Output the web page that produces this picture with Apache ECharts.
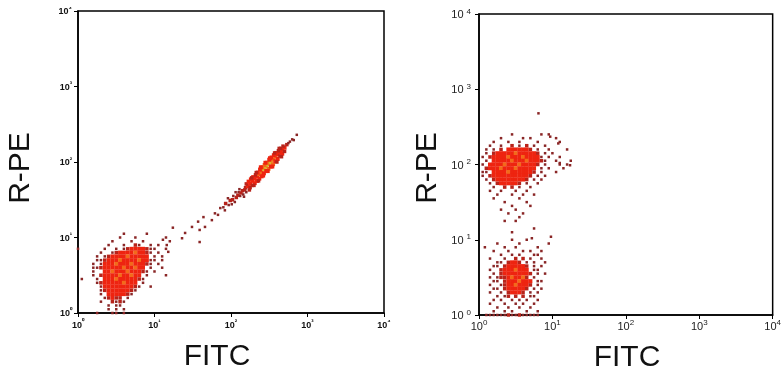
<!DOCTYPE html>
<html>
<head>
<meta charset="utf-8">
<script src="https://cdn.jsdelivr.net/npm/echarts@6/dist/echarts.min.js"></script>
<style>
html,body{margin:0;padding:0;background:#fff;}
#chart{width:784px;height:379px;}
</style>
</head>
<body>
<div id="chart"></div>
<script>
// ---------- DATA (log10 units: 0 = 10^0 ... 4 = 10^4) ----------
const DECADES = [0, 1, 2, 3, 4];
const X_TITLE = 'FITC';
const Y_TITLE = 'R-PE';

// density grids: cell step 0.05 decade
// chars: '.' none, '1' single event, '2' few events, '3' dense, '4' denser, '5' densest
const GRID_STEP = 0.05;

// Left plot, low population (x from 0.00, top row y = 1.05)
const LEFT_LOW_X0 = 0.0, LEFT_LOW_YTOP = 1.05;
const LEFT_LOW_ROWS = [
  "............1.....1.......",
  "...........1...1.......1..",
  ".........1....1..1......1.",
  "........1...1..21..1.1....",
  "1......1..1.123333211..1..",
  "......1..12333343321.1....",
  ".....1.123333433333.1.1...",
  ".....1123334333343311.1...",
  "....1.13334333433321.1....",
  "....11233333433433.1..1...",
  "....1..334333433321.1.....",
  "....1.23333433433.1....1..",
  ".1...1.33343333321........",
  ".....12333334333.1........",
  "......13333333321..1......",
  "......1233333321..........",
  "......1.3333321...........",
  ".......12322.1............",
  "......1..2121.............",
  "........1.11..............",
  "........1.1.1.............",
  ".....1...11.1............."
];

// Left plot, diagonal double-positive streak: [x, y, level]
const LEFT_STREAK = [
  [1.11,0.97,1],[1.16,0.90,1],[1.18,0.81,1],[1.24,1.13,1],[1.36,0.99,1],[1.40,1.06,1],
  [1.49,1.14,1],[1.57,1.21,1],[1.59,1.10,1],[1.59,0.94,1],[1.64,1.27,1],[1.66,1.14,1],
  [1.75,1.23,1],[1.79,1.32,1],[1.83,1.30,1],[1.86,1.39,1],[1.92,1.36,1],[1.90,1.40,1],
  [1.93,1.45,2],[1.97,1.43,1],[1.99,1.49,2],[2.02,1.50,2],[2.03,1.55,1],[2.05,1.47,1],
  [2.07,1.53,2],[2.09,1.56,2],[2.10,1.60,1],[2.12,1.55,1],[2.13,1.59,2],[2.15,1.62,2],
  [2.16,1.57,1],[2.18,1.63,2],[2.19,1.66,2],[2.20,1.60,1],[1.96,1.52,1],[2.06,1.60,1],
  [2.01,1.44,1],[2.11,1.64,1],[2.17,1.54,1],
  [2.22,1.68,3],[2.20,1.71,2],[2.25,1.66,2],
  [2.25,1.71,3],[2.23,1.74,3],[2.28,1.69,2],
  [2.28,1.75,3],[2.26,1.77,3],[2.31,1.72,3],
  [2.31,1.78,3],[2.29,1.80,3],[2.34,1.75,3],
  [2.34,1.81,3],[2.32,1.83,2],[2.37,1.78,3],
  [2.37,1.84,4],[2.35,1.86,3],[2.40,1.81,3],
  [2.40,1.87,4],[2.38,1.90,3],[2.43,1.85,3],
  [2.43,1.91,5],[2.41,1.93,4],[2.46,1.88,3],
  [2.46,1.94,5],[2.44,1.96,4],[2.49,1.91,4],
  [2.49,1.97,5],[2.47,1.99,4],[2.52,1.94,3],
  [2.52,2.00,5],[2.50,2.03,3],[2.55,1.97,4],
  [2.55,2.03,4],[2.53,2.06,3],[2.58,2.01,3],
  [2.58,2.07,4],[2.56,2.09,3],[2.61,2.04,3],
  [2.61,2.10,3],[2.59,2.12,3],[2.64,2.08,2],
  [2.64,2.13,3],[2.62,2.15,2],[2.67,2.11,3],
  [2.67,2.16,3],[2.65,2.18,2],[2.70,2.14,2],
  [2.70,2.19,3],[2.68,2.21,2],
  [2.73,2.23,2],[2.75,2.25,1],[2.77,2.27,1],[2.80,2.30,1],[2.86,2.36,1],[2.82,2.29,1],
  [2.24,1.63,2],[2.30,1.69,2],[2.36,1.75,2],[2.42,1.82,3],[2.48,1.88,3],[2.54,1.94,3],
  [2.60,2.00,2],[2.66,2.07,2],[2.27,1.79,2],[2.33,1.86,2],[2.39,1.93,3],[2.45,1.99,3],
  [2.51,2.05,3],[2.57,2.12,2],[2.63,2.18,2]
];

// Right plot, upper population (x from 0.00, top row y = 2.40)
const RIGHT_HIGH_X0 = 0.0, RIGHT_HIGH_YTOP = 2.40;
const RIGHT_HIGH_ROWS = [
  ".........1.......1.1.......",
  "......1.....1.1......1.....",
  "....1...1..1....1.....1....",
  "...1..1..2.1.2.1..1........",
  "..1.1.2.3333332.1..1....1..",
  "..1.2333334333332.1.1......",
  ".1.233334333433331.1..1....",
  "..1.333334333433321..1...1.",
  ".1.33334333433332.1...1.1..",
  "..23334333433333.1.1...1...",
  ".11.333343333332.1...1.....",
  ".1.233333333332.1.1........",
  "..1.2333333332.1.1.........",
  "...1.2333332.1..1..........",
  "....1..2.2.1..1............",
  "...1..1...1..1.............",
  ".....1...1..1..1...........",
  "....1......1...............",
  ".......1.....1.............",
  ".........1....1............",
  "......1...1................",
  "........1...1..............",
  "...........1...............",
  ".......1..1................",
  "...........................",
  "...............1...........",
  ".........1................."
];

// Right plot, lower population (x from 0.00, top row y = 1.00)
const RIGHT_LOW_X0 = 0.0, RIGHT_LOW_YTOP = 1.00;
const RIGHT_LOW_ROWS = [
  ".........1...1.......",
  ".....1.....1.......1.",
  ".......1..1.....1....",
  "....1...1...1.1..1...",
  "......1..1.1...11....",
  "...1...1..2.2.1..1...",
  ".....11.2332.1.1..1..",
  "....11.2333332.1.1...",
  "...1..23334333.11....",
  "....1.233333332.1.1..",
  "...1.122343342.1.....",
  "....11.23334333.11...",
  "...1..123343332.1....",
  "....11.2333332.1.1...",
  "...1..1.23332.1.1....",
  ".....1.12.2.2.11.....",
  "....1.1..1.1.1..1....",
  "...1...1..1.1..1.....",
  ".....1..1..1..1......",
  "....1..1.1...1..1....",
  "..111111211211111...."
];

// Right plot, isolated events: [x, y, level]
const RIGHT_OUTLIERS = [
  [0.81,2.68,1],[0.97,2.37,1],[1.08,2.28,1],[1.10,2.02,1],[1.24,1.99,1],
  [0.98,1.04,1],[0.08,0.90,1],[0.72,1.02,1]
];

// ---------- BUILD ----------
function expandGrid(rows, x0, yTop) {
  const out = [];
  rows.forEach((row, r) => {
    for (let c = 0; c < row.length; c++) {
      const ch = row[c];
      if (ch !== '.') out.push([+(x0 + c * GRID_STEP).toFixed(3), +(yTop - r * GRID_STEP).toFixed(3), +ch]);
    }
  });
  return out;
}

const leftData = expandGrid(LEFT_LOW_ROWS, LEFT_LOW_X0, LEFT_LOW_YTOP).concat(LEFT_STREAK);
const rightData = expandGrid(RIGHT_HIGH_ROWS, RIGHT_HIGH_X0, RIGHT_HIGH_YTOP)
  .concat(expandGrid(RIGHT_LOW_ROWS, RIGHT_LOW_X0, RIGHT_LOW_YTOP))
  .concat(RIGHT_OUTLIERS);

const LEVEL_COLORS = {1:'#8a2626', 2:'#b8231a', 3:'#ee2410', 4:'#f36a1a', 5:'#d8b62a'};
const LEVEL_SIZES = {1:2.5, 2:3.5, 3:4, 4:4, 5:4};

const SUP = ['\u2070','\u00b9','\u00b2','\u00b3','\u2074'];
const FONT = 'Liberation Sans';

function axisCommon(idx) {
  return {
    gridIndex: idx, type: 'value', min: 0, max: 4, interval: 1,
    splitLine: {show: false},
    axisLine: {show: true, onZero: false, lineStyle: {color: '#000', width: 1.5}},
    axisTick: {show: true, inside: false, length: 4, lineStyle: {color: '#000', width: 1}}
  };
}

const smallRich = {
  b: {fontFamily: FONT, fontSize: 9, fontWeight: 'bold', color: '#111', lineHeight: 11, verticalAlign: 'bottom'},
  s: {fontFamily: FONT, fontSize: 7, fontWeight: 'bold', color: '#111', lineHeight: 11, verticalAlign: 'top'}
};
const bigRich = {
  b: {fontFamily: FONT, fontSize: 11, color: '#222', lineHeight: 13, verticalAlign: 'bottom'},
  s: {fontFamily: FONT, fontSize: 8, color: '#222', lineHeight: 13, verticalAlign: 'top'}
};

const option = {
  animation: false,
  backgroundColor: '#fff',
  grid: [
    {left: 78, top: 11, width: 306, height: 302, show: true, borderColor: '#000', borderWidth: 1.5, backgroundColor: 'transparent'},
    {left: 479, top: 14, width: 301, height: 301, show: true, borderColor: '#000', borderWidth: 1.5, backgroundColor: 'transparent'}
  ],
  xAxis: [
    Object.assign(axisCommon(0), {axisLabel: {margin: 6, rich: smallRich, formatter: v => '{b|10}{s|' + SUP[DECADES.indexOf(v)] + '}'}}),
    Object.assign(axisCommon(1), {axisLabel: {margin: 4, rich: bigRich, formatter: v => '{b|10}{s|' + DECADES[DECADES.indexOf(v)] + '}'}})
  ],
  yAxis: [
    Object.assign(axisCommon(0), {axisLabel: {margin: 6, rich: smallRich, formatter: v => '{b|10}{s|' + SUP[DECADES.indexOf(v)] + '}'}}),
    Object.assign(axisCommon(1), {axisLabel: {margin: 8, rich: bigRich, formatter: v => '{b|10 }{s|' + DECADES[DECADES.indexOf(v)] + '}'}})
  ],
  series: [
    {
      type: 'scatter', xAxisIndex: 0, yAxisIndex: 0, data: leftData,
      symbol: 'rect', symbolSize: v => LEVEL_SIZES[v[2]],
      itemStyle: {color: p => LEVEL_COLORS[p.value[2]], opacity: 1},
      emphasis: {disabled: true}, clip: false, large: false
    },
    {
      type: 'scatter', xAxisIndex: 1, yAxisIndex: 1, data: rightData,
      symbol: 'rect', symbolSize: v => LEVEL_SIZES[v[2]],
      itemStyle: {color: p => LEVEL_COLORS[p.value[2]], opacity: 1},
      emphasis: {disabled: true}, clip: false, large: false
    }
  ],
  graphic: [
    {type: 'text', x: 21, y: 168, rotation: Math.PI / 2,
     style: {text: Y_TITLE, font: '30px "Liberation Sans"', fill: '#111', textAlign: 'center', textVerticalAlign: 'middle'}},
    {type: 'text', x: 217, y: 357,
     style: {text: X_TITLE, font: '30px "Liberation Sans"', fill: '#111', textAlign: 'center', textVerticalAlign: 'middle'}},
    {type: 'text', x: 428, y: 168, rotation: Math.PI / 2,
     style: {text: Y_TITLE, font: '30px "Liberation Sans"', fill: '#111', textAlign: 'center', textVerticalAlign: 'middle'}},
    {type: 'text', x: 627, y: 358,
     style: {text: X_TITLE, font: '30px "Liberation Sans"', fill: '#111', textAlign: 'center', textVerticalAlign: 'middle'}}
  ]
};

const chart = echarts.init(document.getElementById('chart'), null, {renderer: 'canvas'});
chart.setOption(option);
</script>
</body>
</html>
